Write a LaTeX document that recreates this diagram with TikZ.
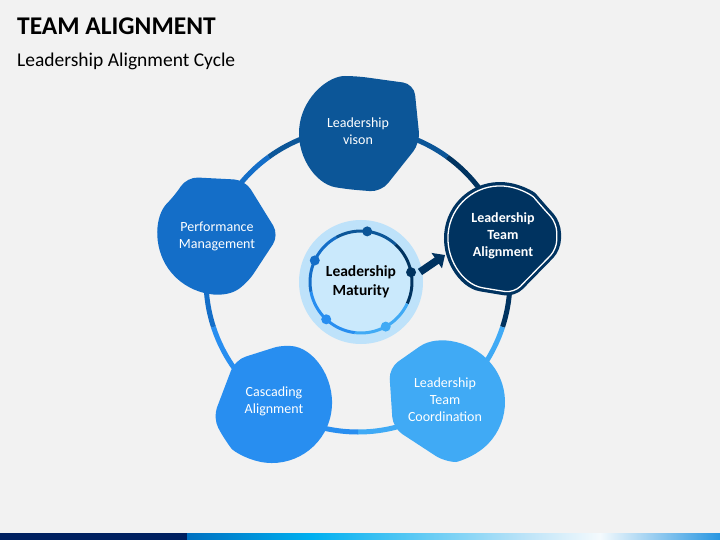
\documentclass[tikz,border=0pt]{standalone}
\usepackage{fontspec}
\setmainfont{Carlito}
\usetikzlibrary{arrows.meta}

\definecolor{bg}{RGB}{242,242,242}
\definecolor{vis}{RGB}{12,86,152}
\definecolor{ali}{RGB}{0,51,96}
\definecolor{coo}{RGB}{64,170,245}
\definecolor{cas}{RGB}{40,142,240}
\definecolor{per}{RGB}{20,110,200}
\definecolor{halo}{RGB}{190,226,250}
\definecolor{core}{RGB}{202,233,252}
\definecolor{barnavy}{RGB}{0,32,96}

\begin{document}
\begin{tikzpicture}
  [x=1pt,y=-1pt,
   blob/.style={rounded corners=11pt},
   txt/.style={align=center,text=white,font=\fontsize{14}{17}\selectfont}]
  \fill[bg] (0,0) rectangle (720,540);
  \useasboundingbox (0,0) rectangle (720,540);

  % title
  \node[anchor=base west,inner sep=0,font=\bfseries\fontsize{25.5}{28}\selectfont] (title) at (17,35) {TEAM ALIGNMENT};
  \node[anchor=base west,inner sep=0,font=\fontsize{19.5}{23}\selectfont] (subtitle) at (17,67) {Leadership Alignment Cycle};

  % outer ring
  \foreach \a/\c in {-90/vis,-18/ali,54/coo,126/cas,198/per}
    \draw[line width=5pt,\c] (358,280) ++({\a-36}:152) arc[start angle=\a-36,end angle=\a+36,radius=152];

  % stages
  \begin{scope}[shift={(356,133)}]
    \fill[vis,blob] (100:57) arc[start angle=100,end angle=270,radius=57] -- (58,-49) -- (64,10) -- (25,59) -- cycle;
  \end{scope}
  \begin{scope}[shift={(500,238)}]
    \fill[ali,blob] (100:56) arc[start angle=100,end angle=320,radius=56] -- (61,-16) -- (61,12) -- (15,59) -- cycle;
    \draw[white,line width=1.3pt,rounded corners=9pt,scale=0.93] (100:56) arc[start angle=100,end angle=320,radius=56] -- (61,-16) -- (61,12) -- (15,59) -- cycle;
  \end{scope}
  \begin{scope}[shift={(445,402)}]
    \fill[coo,blob] (-125:60) arc[start angle=-125,end angle=90,radius=60] -- (-52,26) -- (-56,-34) -- cycle;
  \end{scope}
  \begin{scope}[shift={(272,403)}]
    \fill[cas,blob] (-78:60) arc[start angle=-78,end angle=142,radius=60] -- (-59,15) -- (-37,-43) -- cycle;
  \end{scope}
  \begin{scope}[shift={(215,236)}]
    \fill[per,blob] (55:57) arc[start angle=55,end angle=225,radius=57] -- (-28,-59) -- (30,-56) -- (64,-1) -- cycle;
  \end{scope}

  \node[txt] (vision) at (358,131) {Leadership\\vison};
  \node[txt,font=\bfseries\fontsize{14}{17}\selectfont] (alignment) at (503,236) {Leadership\\Team\\Alignment};
  \node[txt] (coordination) at (445,400) {Leadership\\Team\\Coordination};
  \node[txt] (cascading) at (274,401) {Cascading\\Alignment};
  \node[txt] (performance) at (217,236) {Performance\\Management};

  % centre
  \fill[halo] (361,282) circle[radius=62];
  \fill[core] (361,282) circle[radius=51];
  \foreach \a/\c in {-83/vis,-11/ali,61/coo,133/cas,205/per}
    \draw[line width=3pt,\c] (361,282) ++({\a-36}:51) arc[start angle=\a-36,end angle=\a+36,radius=51];
  \foreach \a/\c in {-83/vis,-11/ali,61/coo,133/cas,205/per}
    \fill[\c] (361,282) ++(\a:51) circle[radius=5];
  \node[align=center,font=\bfseries\fontsize{15.5}{19.5}\selectfont] (maturity) at (361,282) {Leadership\\Maturity};

  \coordinate (arrowtail) at (420,272);
  \coordinate (arrowtip) at (445,255);
  \draw[ali,line width=7.5pt,-{Triangle[length=10pt,width=18pt]}] (arrowtail) -- (arrowtip);

  % bottom bar
  \fill[barnavy] (0,533) rectangle (187,540);
  \shade[left color={rgb,255:red,0;green,112;blue,192},right color={rgb,255:red,0;green,176;blue,240}] (187,533) rectangle (312,540);
  \shade[left color={rgb,255:red,0;green,176;blue,240},right color={rgb,255:red,190;green,228;blue,248}] (312,533) rectangle (527,540);
  \shade[left color={rgb,255:red,190;green,228;blue,248},right color={rgb,255:red,244;green,250;blue,253}] (527,533) rectangle (600,540);
  \shade[left color={rgb,255:red,244;green,250;blue,253},right color={rgb,255:red,40;green,150;blue,225}] (600,533) rectangle (720,540);
\end{tikzpicture}
\end{document}
